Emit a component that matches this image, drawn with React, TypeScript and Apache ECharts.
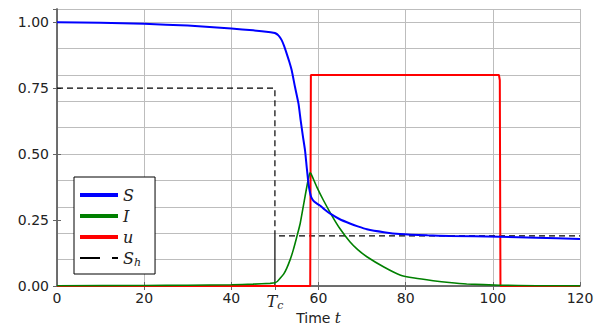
import React, { useEffect, useRef } from "react";
import * as echarts from "echarts";

const sData: [number, number][] = [
  [0, 1.0], [10, 0.998], [20, 0.994], [30, 0.987], [40, 0.976], [45, 0.969], [49, 0.962], [50, 0.959],
  [50.8, 0.95], [51.55, 0.932], [52.1, 0.91], [52.7, 0.881], [53.3, 0.85], [53.85, 0.818],
  [54.6, 0.755], [55.4, 0.692], [55.9, 0.629], [56.4, 0.57], [56.9, 0.515], [57.3, 0.45],
  [57.7, 0.389], [58.0, 0.358], [58.3, 0.338], [58.8, 0.324], [59.5, 0.314], [60.35, 0.305],
  [61.4, 0.29], [62.6, 0.275], [64.9, 0.253], [67.2, 0.237], [69, 0.226], [71.1, 0.215], [75, 0.204],
  [78.7, 0.197], [85, 0.192], [90, 0.19], [101.6, 0.187], [110, 0.183], [120, 0.178],
];

const iData: [number, number][] = [
  [0, 0.001], [20, 0.002], [30, 0.003], [40, 0.005], [45, 0.007], [48.9, 0.01], [50, 0.012],
  [50.6, 0.018], [51.2, 0.029], [52, 0.045], [52.7, 0.067], [53.5, 0.1], [54.2, 0.136],
  [55, 0.185], [55.8, 0.237], [56.9, 0.338], [57.6, 0.4], [58.05, 0.429], [58.3, 0.425],
  [59.6, 0.376], [61.1, 0.326], [63.0, 0.269], [64.9, 0.218], [67.2, 0.168], [69, 0.138],
  [71.1, 0.111], [75, 0.072], [78.7, 0.042], [82, 0.03], [86.3, 0.02], [90, 0.013], [94, 0.0076],
  [101.6, 0.003], [110, 0.001], [120, 0.0005],
];

const uData: [number, number][] = [
  [0, 0], [58.1, 0], [58.25, 0.8], [101.4, 0.8], [101.6, 0.78], [101.75, 0], [120, 0],
];

const shData: [number, number][] = [
  [0, 0.75], [50, 0.75], [50, 0], [50, 0.19], [120, 0.19],
];

const xTickLabels = [0, 20, 40, 60, 80, 100, 120];
const tcValue = 50;
const yTickLabels = ["0.00", "0.25", "0.50", "0.75", "1.00"];

const AXIS = "#666666";
const GRID = "#bdbdbd";
const TEXT = "#222222";
const SANS = "DejaVu Sans";
const SERIF = "DejaVu Serif";

export default function App() {
  const ref = useRef<HTMLDivElement>(null);
  useEffect(() => {
    if (!ref.current) return;
    const chart = echarts.init(ref.current, undefined, { renderer: "svg" });
    const mathRich = {
      i: { fontFamily: SERIF, fontStyle: "italic", fontSize: 16, color: TEXT },
      sub: { fontFamily: SERIF, fontStyle: "italic", fontSize: 11, color: TEXT, padding: [9, 0, 0, 0] },
    };
    chart.setOption({
      animation: false,
      backgroundColor: "#ffffff",
      grid: { left: 57, right: 23, top: 9, bottom: 44, containLabel: false, outerBoundsMode: "none" },
      legend: {
        orient: "vertical",
        left: 74,
        top: 177,
        backgroundColor: "#ffffff",
        borderColor: "#000000",
        borderWidth: 1,
        borderRadius: 0,
        padding: [10, 14, 6, 4],
        itemGap: 5,
        itemWidth: 38,
        itemHeight: 15,
        itemStyle: { opacity: 0 },
        textStyle: { color: TEXT, fontFamily: SERIF, fontStyle: "italic", fontSize: 16, rich: mathRich },
        formatter: (name: string) => (name === "S_h" ? "{i|S}{sub|h}" : "{i|" + name + "}"),
        data: [
          { name: "S", lineStyle: { width: 4 } },
          { name: "I", lineStyle: { width: 4 } },
          { name: "u", lineStyle: { width: 4 } },
          { name: "S_h", lineStyle: { width: 2, type: [20, 12] } },
        ],
      },
      xAxis: [
        {
          type: "value",
          position: "bottom",
          min: 0,
          max: 120,
          interval: 20,
          name: "Time {i|t}",
          nameLocation: "middle",
          nameGap: 24,
          nameTextStyle: {
            fontFamily: SANS,
            fontSize: 14,
            color: TEXT,
            rich: { i: { fontFamily: SERIF, fontStyle: "italic", fontSize: 15, color: TEXT } },
          },
          axisLine: { show: true, lineStyle: { color: AXIS, width: 1.5 } },
          axisTick: { show: true, inside: true, length: 4, lineStyle: { color: AXIS } },
          axisLabel: {
            color: TEXT,
            fontFamily: SANS,
            fontSize: 14,
            margin: 5,
            formatter: (v: number) => (xTickLabels.includes(v) ? String(v) : ""),
          },
          splitLine: { show: true, lineStyle: { color: GRID, width: 1 } },
        },
        {
          type: "value",
          position: "bottom",
          min: 0,
          max: 120,
          interval: 10,
          axisLine: { show: false },
          axisTick: { show: false },
          splitLine: { show: false },
          axisLabel: {
            color: TEXT,
            margin: 5,
            rich: mathRich,
            formatter: (v: number) => (v === tcValue ? "{i|T}{sub|c}" : ""),
          },
        },
        {
          type: "value",
          position: "top",
          min: 0,
          max: 120,
          interval: 10,
          axisLine: { show: true, lineStyle: { color: AXIS, width: 1.5 } },
          axisTick: {
            show: true,
            inside: true,
            length: 4,
            lineStyle: { color: AXIS },
            customValues: [20, 40, 50, 60, 80, 100],
          },
          axisLabel: { show: false },
          splitLine: { show: false },
        },
      ],
      yAxis: [
        {
          type: "value",
          position: "left",
          min: 0,
          max: 1.05,
          interval: 0.25,
          axisLine: { show: true, lineStyle: { color: AXIS, width: 1.5 } },
          axisTick: { show: true, inside: true, length: 4, lineStyle: { color: AXIS } },
          axisLabel: {
            color: TEXT,
            fontFamily: SANS,
            fontSize: 14,
            margin: 8,
            showMaxLabel: false,
            formatter: (v: number) => {
              const s = v.toFixed(2);
              return yTickLabels.includes(s) ? s : "";
            },
          },
          splitLine: { show: false },
        },
        {
          type: "value",
          position: "left",
          min: 0,
          max: 1.05,
          interval: 0.1,
          axisLine: { show: false },
          axisTick: { show: false },
          axisLabel: { show: false },
          splitLine: { show: true, lineStyle: { color: GRID, width: 1 } },
        },
        {
          type: "value",
          position: "right",
          min: 0,
          max: 1.05,
          interval: 0.25,
          axisLine: { show: true, lineStyle: { color: AXIS, width: 1.5 } },
          axisTick: { show: true, inside: true, length: 4, lineStyle: { color: AXIS } },
          axisLabel: { show: false },
          splitLine: { show: false },
        },
      ],
      series: [
        {
          name: "S_h",
          type: "line",
          data: shData,
          showSymbol: false,
          symbol: "none",
          z: 3,
          lineStyle: { color: "#000000", width: 1.2, type: [6, 4] },
          itemStyle: { color: "#000000" },
        },
        {
          name: "u",
          type: "line",
          data: uData,
          showSymbol: false,
          symbol: "none",
          z: 4,
          lineStyle: { color: "#ff0000", width: 2 },
          itemStyle: { color: "#ff0000" },
        },
        {
          name: "I",
          type: "line",
          data: iData,
          showSymbol: false,
          symbol: "none",
          smooth: 0.2,
          z: 5,
          lineStyle: { color: "#008000", width: 1.6 },
          itemStyle: { color: "#008000" },
        },
        {
          name: "S",
          type: "line",
          data: sData,
          showSymbol: false,
          symbol: "none",
          smooth: 0.2,
          z: 6,
          lineStyle: { color: "#0000ff", width: 2 },
          itemStyle: { color: "#0000ff" },
        },
      ],
    });
    return () => chart.dispose();
  }, []);
  return (
    <div
      ref={ref}
      style={{ position: "fixed", left: 0, top: 0, width: 603, height: 330 }}
    />
  );
}
